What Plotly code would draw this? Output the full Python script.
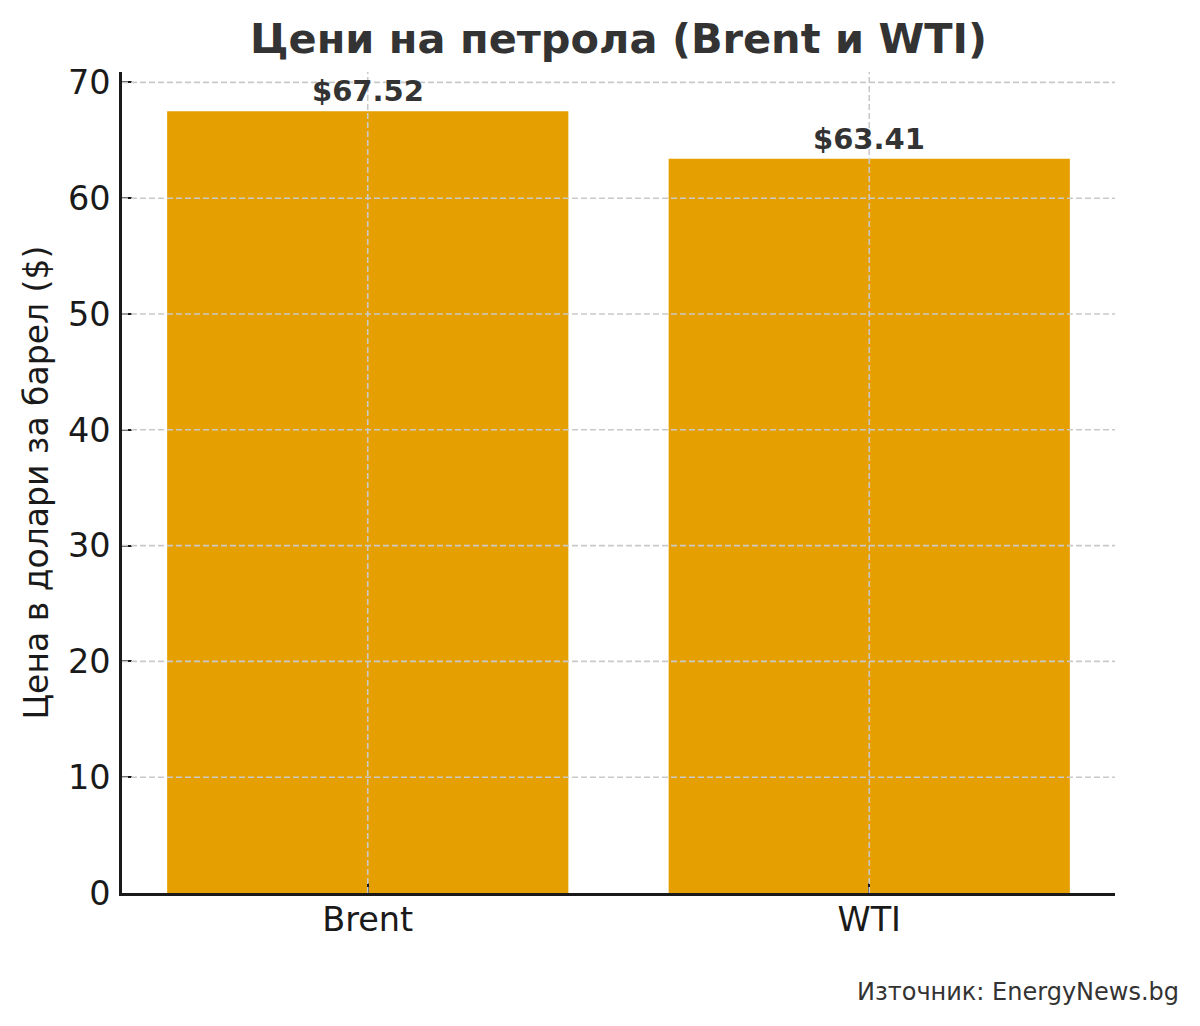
import plotly.graph_objects as go

categories = ["Brent", "WTI"]
prices = [67.52, 63.41]
value_labels = ["$67.52", "$63.41"]
y_ticks = [0, 10, 20, 30, 40, 50, 60, 70]

title_text = "Цени на петрола (Brent и WTI)"
y_title = "Цена в долари за барел ($)"
source_text = "Източник: EnergyNews.bg"

FONT = "DejaVu Sans"
BAR_COLOR = "#E69F00"
GRID_COLOR = "#c9c9c9"

fig = go.Figure()
fig.add_trace(go.Bar(
    x=categories, y=prices, marker=dict(color=BAR_COLOR, line=dict(width=0)),
    width=0.8, hoverinfo="skip", showlegend=False,
))

# value labels above bars
for c, v, t in zip(categories, prices, value_labels):
    fig.add_annotation(x=c, y=v, text=f"<b>{t}</b>", showarrow=False,
                       yanchor="bottom", yshift=1,
                       font=dict(family=FONT, size=29, color="#333333"))

# grid lines drawn above bars
for t in y_ticks[1:]:
    fig.add_shape(type="line", xref="paper", yref="y", x0=0, x1=1, y0=t, y1=t,
                  line=dict(color=GRID_COLOR, width=1.6, dash="6px,3px"), layer="above")
for c in categories:
    fig.add_shape(type="line", xref="x", yref="paper", x0=c, x1=c, y0=0, y1=1,
                  line=dict(color=GRID_COLOR, width=1.6, dash="6px,3px"), layer="above")

fig.add_annotation(xref="paper", yref="paper", x=-0.0856, y=0.5, text=y_title,
                   textangle=-90, showarrow=False, xanchor="center", yanchor="middle",
                   font=dict(family=FONT, size=33, color="#1a1a1a"))

fig.add_annotation(xref="paper", yref="paper", x=1.0665, y=-0.1206, text=source_text,
                   showarrow=False, xanchor="right", yanchor="middle",
                   font=dict(family=FONT, size=24, color="#333333"))

fig.update_layout(
    width=1200, height=1026,
    margin=dict(l=122, r=85, t=72, b=133),
    paper_bgcolor="white", plot_bgcolor="white",
    title=dict(text=f"<b>{title_text}</b>", x=0.5, xref="paper", xanchor="center",
               y=1 - 38 / 1026, yanchor="middle",
               font=dict(family=FONT, size=41.5, color="#333333")),
    bargap=0.2,
    xaxis=dict(
        range=[-0.49, 1.49], showgrid=False, showline=True, linecolor="#1a1a1a",
        linewidth=2.5, ticks="inside", ticklen=10, tickwidth=2, tickcolor="#1a1a1a",
        tickfont=dict(family=FONT, size=33.5, color="#1a1a1a"), layer="above traces",
        zeroline=False, ticklabelstandoff=-5,
    ),
    yaxis=dict(
        range=[0, 70.9], tickvals=y_ticks, showgrid=False, showline=True,
        linecolor="#1a1a1a", linewidth=2.5, ticks="inside", ticklen=10, tickwidth=2,
        tickcolor="#1a1a1a", tickfont=dict(family=FONT, size=33.5, color="#1a1a1a"),
        layer="above traces", zeroline=False, ticklabelstandoff=2,
    ),
)

fig.write_html("out.html", config={"displayModeBar": False},
               post_script="document.body.style.margin='0';")
